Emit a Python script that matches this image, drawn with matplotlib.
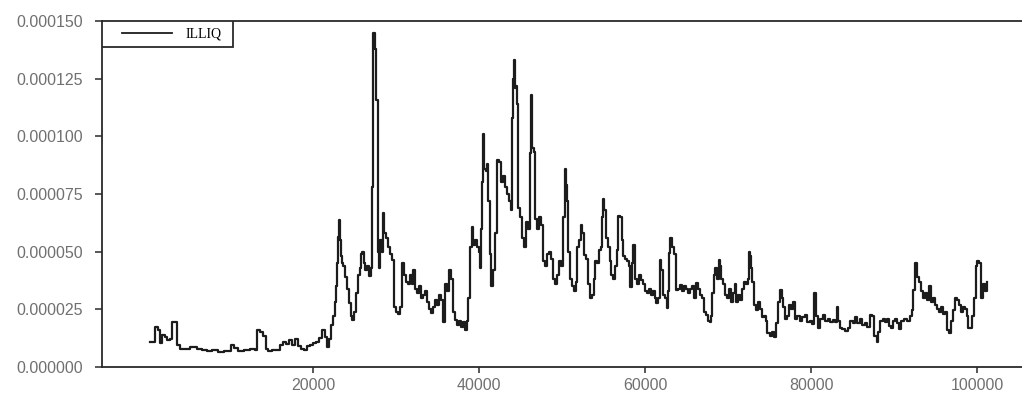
import matplotlib
matplotlib.use("Agg")
from matplotlib import pyplot as plt
from matplotlib.patches import Rectangle
from matplotlib.ticker import FormatStrFormatter

# === Datos (observación, ILLIQ en 1e-6) ===
obs = [
    360, 840, 960, 1330, 1570, 1810, 2170, 2410, 2770, 3010,
    3490, 3620, 3980, 4580, 5180, 5540, 6020, 6630, 7230, 7830,
    8560, 9280, 9760, 10120, 10480, 10970, 11690, 12410, 13010, 13260,
    13620, 13980, 14340, 14580, 15060, 15540, 16030, 16390, 16750, 17110,
    17470, 17830, 18200, 18560, 18920, 19280, 19640, 20000, 20360, 20730,
    20850, 21090, 21450, 21690, 21930, 22170, 22410, 22650, 22770, 22900,
    23020, 23140, 23260, 23380, 23500, 23620, 23860, 24100, 24340, 24580,
    24700, 24940, 25180, 25430, 25670, 25790, 25910, 26150, 26270, 26510,
    26750, 26990, 27110, 27230, 27470, 27590, 27840, 27960, 28080, 28320,
    28440, 28560, 28800, 29040, 29280, 29520, 29760, 30000, 30250, 30490,
    30730, 30970, 31210, 31450, 31690, 31930, 32050, 32290, 32540, 32780,
    33020, 33260, 33500, 33740, 33980, 34220, 34460, 34700, 34950, 35190,
    35430, 35670, 35910, 36150, 36390, 36630, 36870, 37110, 37360, 37600,
    37840, 38080, 38320, 38560, 38680, 38920, 39160, 39280, 39520, 39770,
    40010, 40130, 40250, 40370, 40490, 40610, 40850, 40970, 41090, 41330,
    41450, 41690, 41930, 42180, 42420, 42660, 42900, 43140, 43380, 43620,
    43860, 43980, 44100, 44220, 44340, 44460, 44590, 44710, 44950, 45190,
    45430, 45670, 45910, 46150, 46270, 46390, 46630, 46750, 47000, 47240,
    47480, 47720, 47960, 48200, 48440, 48680, 48920, 49160, 49410, 49650,
    49890, 50130, 50370, 50490, 50610, 50730, 50970, 51210, 51450, 51690,
    51820, 52060, 52300, 52420, 52660, 52900, 53140, 53380, 53620, 53860,
    53980, 54230, 54470, 54710, 54830, 54950, 55070, 55310, 55550, 55790,
    55910, 56150, 56390, 56640, 56760, 57000, 57240, 57360, 57600, 57840,
    58080, 58200, 58440, 58560, 58800, 59050, 59290, 59530, 59770, 60010,
    60250, 60490, 60730, 60970, 61210, 61330, 61580, 61820, 61940, 62180,
    62420, 62660, 62780, 62900, 63020, 63260, 63500, 63740, 63990, 64230,
    64470, 64710, 64950, 65190, 65430, 65670, 65910, 66150, 66400, 66640,
    66880, 67120, 67360, 67600, 67840, 67960, 68080, 68320, 68440, 68690,
    68930, 69050, 69170, 69410, 69650, 69890, 70130, 70370, 70610, 70850,
    70970, 71220, 71460, 71700, 71940, 72180, 72420, 72540, 72660, 72780,
    72900, 73140, 73380, 73630, 73870, 74110, 74350, 74590, 74710, 75070,
    75310, 75550, 75790, 76040, 76280, 76520, 76640, 76880, 77120, 77360,
    77600, 77840, 78080, 78330, 78690, 78930, 79290, 79530, 79890, 80130,
    80370, 80610, 80860, 81100, 81460, 81700, 82060, 82300, 82660, 82900,
    83140, 83270, 83510, 83750, 84110, 84470, 84710, 85070, 85310, 85560,
    85920, 86160, 86520, 86760, 87120, 87360, 87600, 87970, 88090, 88330,
    88690, 88930, 89170, 89410, 89650, 89890, 90130, 90380, 90620, 90860,
    91220, 91580, 91940, 92180, 92300, 92540, 92790, 93030, 93270, 93510,
    93750, 93990, 94230, 94470, 94710, 94950, 95200, 95440, 95680, 95920,
    96160, 96400, 96640, 96880, 97120, 97360, 97610, 97850, 98090, 98330,
    98570, 98810, 98930, 99170, 99410, 99650, 99890, 100020, 100260, 100500,
    100740, 100980, 101220,
]

illiq_e6 = [
    11.0, 11.0, 17.5, 16.0, 10.5, 14.0, 13.0, 11.5, 12.0, 19.6,
    19.6, 9.5, 8.0, 7.8, 8.5, 8.8, 8.0, 7.5, 7.0, 7.2,
    6.6, 7.0, 6.8, 9.5, 8.2, 7.0, 7.5, 7.8, 7.2, 16.0,
    15.0, 13.5, 8.0, 7.0, 7.5, 7.2, 9.5, 11.0, 10.0, 11.5,
    9.5, 12.0, 9.0, 8.0, 7.5, 9.0, 9.5, 10.5, 11.0, 12.5,
    12.5, 16.0, 13.0, 8.8, 12.0, 18.0, 22.0, 28.0, 35.0, 45.0,
    56.5, 63.7, 55.0, 48.0, 45.0, 44.0, 39.0, 34.0, 27.7, 22.0,
    20.4, 24.0, 32.0, 40.0, 43.0, 49.0, 50.0, 45.0, 42.0, 44.0,
    39.5, 43.0, 78.0, 145.0, 138.0, 115.7, 50.0, 43.0, 55.0, 50.0,
    66.8, 58.0, 56.0, 52.0, 49.0, 46.4, 26.0, 24.0, 23.0, 26.0,
    45.0, 40.0, 37.0, 36.0, 40.0, 36.0, 42.0, 34.0, 32.0, 35.0,
    30.0, 31.0, 33.0, 28.0, 25.0, 23.4, 26.0, 29.0, 27.0, 31.0,
    29.0, 19.5, 36.0, 33.0, 42.0, 38.0, 24.0, 20.4, 18.0, 20.0,
    17.5, 19.5, 16.0, 20.0, 30.0, 52.0, 60.7, 53.0, 55.0, 52.0,
    50.0, 43.0, 60.0, 80.0, 101.0, 86.0, 85.0, 88.0, 72.0, 49.0,
    35.0, 42.0, 58.0, 89.7, 89.0, 80.0, 83.0, 78.0, 75.0, 72.0,
    68.0, 108.0, 125.0, 133.0, 121.0, 122.0, 114.0, 69.0, 65.0, 56.0,
    52.0, 63.0, 60.0, 92.7, 118.0, 95.0, 93.0, 64.0, 60.0, 65.0,
    61.6, 46.0, 44.0, 49.0, 50.0, 47.0, 38.0, 36.0, 40.0, 46.0,
    44.0, 65.0, 86.0, 79.0, 72.0, 50.0, 38.0, 35.0, 33.0, 37.0,
    52.0, 55.0, 61.6, 58.0, 48.5, 47.0, 36.0, 30.0, 31.0, 38.0,
    46.0, 45.0, 50.7, 52.0, 65.0, 73.0, 68.0, 56.0, 52.0, 46.0,
    40.0, 38.0, 44.0, 50.7, 65.5, 65.0, 55.0, 48.0, 47.0, 46.0,
    44.0, 34.7, 45.0, 53.0, 38.0, 36.0, 40.0, 37.7, 36.0, 33.0,
    32.0, 34.0, 31.0, 33.0, 30.0, 27.7, 30.0, 46.4, 42.0, 31.0,
    30.0, 25.6, 33.0, 49.4, 56.0, 52.0, 49.0, 33.4, 34.0, 35.5,
    33.0, 35.0, 34.0, 32.0, 34.0, 35.0, 30.0, 36.4, 34.0, 31.0,
    30.0, 24.0, 22.5, 20.0, 19.5, 22.0, 32.0, 40.0, 43.0, 38.0,
    46.4, 44.0, 38.0, 36.0, 31.0, 30.0, 34.0, 28.0, 32.0, 36.0,
    28.0, 31.0, 29.0, 34.0, 37.0, 36.0, 38.0, 50.0, 48.0, 43.0,
    37.0, 27.0, 24.7, 28.0, 25.0, 21.7, 22.0, 20.0, 14.7, 13.5,
    15.0, 13.0, 19.0, 28.0, 33.4, 30.0, 26.0, 21.0, 22.0, 27.0,
    25.0, 28.0, 21.0, 22.0, 20.0, 21.5, 22.5, 19.5, 20.0, 18.5,
    32.0, 22.0, 17.0, 21.0, 22.5, 20.0, 21.0, 19.5, 20.5, 19.5,
    26.0, 20.0, 17.0, 16.5, 15.5, 17.0, 20.0, 19.0, 21.5, 19.0,
    21.0, 18.0, 19.0, 17.5, 22.5, 22.0, 13.4, 10.8, 15.0, 20.0,
    21.0, 19.5, 21.0, 17.8, 17.0, 20.0, 21.0, 19.0, 16.5, 20.0,
    21.0, 20.0, 22.0, 24.7, 33.4, 45.0, 39.0, 37.0, 33.0, 30.0,
    32.0, 29.0, 35.0, 28.0, 30.0, 27.0, 25.0, 24.0, 26.0, 23.0,
    24.0, 16.0, 14.7, 20.0, 24.7, 30.0, 29.0, 27.0, 24.0, 26.0,
    25.0, 22.0, 17.0, 17.0, 22.0, 30.0, 44.0, 46.0, 45.0, 30.0,
    36.0, 33.0, 37.0,
]

x_ticks = [20000, 40000, 60000, 80000, 100000]
y_ticks = [0.0, 0.000025, 0.00005, 0.000075, 0.0001, 0.000125, 0.00015]
series_name = "ILLIQ"

illiq = [v * 1e-6 for v in illiq_e6]

# === Figura ===
fig = plt.figure(figsize=(10.22, 3.94), dpi=100, facecolor="white")
ax = fig.add_axes([102 / 1022, 27 / 394, 920 / 1022, 346 / 394])

ax.plot(obs, illiq, drawstyle="steps-post", color="#1c1c1c", linewidth=1.6, label=series_name)

ax.set_xlim(-5400, 105400)
ax.set_ylim(0, 0.00015)
ax.set_xticks(x_ticks)
ax.set_xticklabels([str(t) for t in x_ticks])
ax.set_yticks(y_ticks)
ax.yaxis.set_major_formatter(FormatStrFormatter("%.6f"))

for side in ["left", "bottom", "top"]:
    ax.spines[side].set_color("#2a2a2a")
    ax.spines[side].set_linewidth(1.3)
ax.spines["right"].set_visible(False)

ax.tick_params(axis="both", direction="out", width=1.1, color="#2a2a2a",
               labelsize=11.5, labelcolor="#707070")
ax.tick_params(axis="y", length=5, pad=9)
ax.tick_params(axis="x", length=4.5, pad=3.5)
for lbl in ax.get_xticklabels() + ax.get_yticklabels():
    lbl.set_family("Liberation Sans")

# leyenda con marco pegado a la esquina
ax.add_patch(Rectangle((0, 1 - 26 / 346), 131 / 920, 26 / 346, transform=ax.transAxes,
                       facecolor="white", edgecolor="#2a2a2a", linewidth=1.3, zorder=5))
leg = ax.legend(loc="center left", bbox_to_anchor=(0, 1 - 13 / 346), frameon=False,
                borderaxespad=0, borderpad=1.45, handlelength=3.6, handletextpad=0.95,
                prop={"family": "Liberation Serif", "size": 10})
leg.set_zorder(6)
leg.get_lines()[0].set_linewidth(1.3)

plt.savefig("out.png", dpi=100, facecolor="white")
plt.close()
